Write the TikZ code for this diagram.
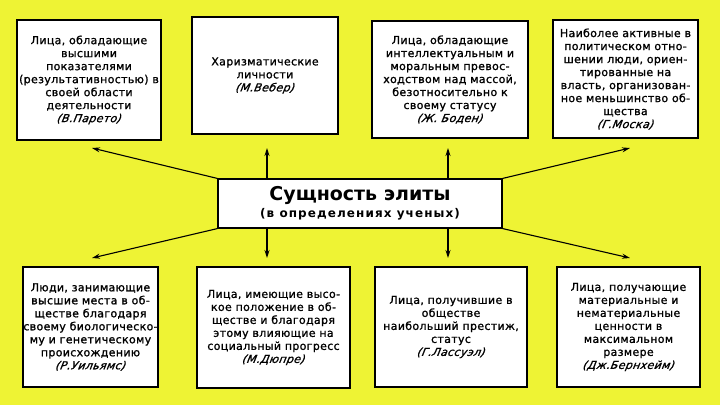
\documentclass[tikz,border=0pt]{standalone}
\usepackage{fontspec}
\setmainfont{DejaVu Sans}[RawFeature={embolden=1.2}, LetterSpace=3, ItalicFeatures={FakeSlant=0.2}]
\newfontfamily\titlefont{DejaVu Sans Bold}
\newfontfamily\subfont{DejaVu Sans Bold}[LetterSpace=9]
\usetikzlibrary{arrows.meta}
\definecolor{bgyellow}{RGB}{238,243,52}
\tikzset{
  box/.style={draw=black, fill=white, line width=1.1pt, align=center, inner sep=0pt,
    font=\fontsize{11}{13}\selectfont},
  arr/.style={line width=1.1pt, -{Stealth[length=8pt,width=5pt]}}
}
\newcommand{\au}[1]{{\itshape #1}}
\begin{document}
\begin{tikzpicture}[x=1pt,y=-1pt]
\fill[bgyellow] (0,0) rectangle (720,405);
\useasboundingbox (0,0) rectangle (720,405);

\node[box, minimum width=144pt, minimum height=120pt] (b1) at (89,80)
  {Лица, обладающие\\высшими\\показателями\\(результативностью) в\\своей области\\деятельности\\\au{(В.Парето)}};
\node[box, minimum width=146pt, minimum height=117pt] (b2) at (265,75.5)
  {Харизматические\\личности\\\au{(М.Вебер)}};
\node[box, minimum width=156pt, minimum height=117pt] (b3) at (450,79.5)
  {Лица, обладающие\\интеллектуальным и\\моральным превос-\\ходством над массой,\\безотносительно к\\своему статусу\\\au{(Ж. Боден)}};
\node[box, minimum width=145pt, minimum height=118pt] (b4) at (625.5,79)
  {Наиболее активные в\\политическом отно-\\шении люди, ориен-\\тированные на\\власть, организован-\\ное меньшинство об-\\щества\\\au{(Г.Моска)}};

\node[box, minimum width=135pt, minimum height=120pt] (b5) at (90.5,327)
  {Люди, занимающие\\высшие места в об-\\ществе благодаря\\своему биологическо-\\му и генетическому\\происхождению\\\au{(Р.Уильямс)}};
\node[box, minimum width=153pt, minimum height=121pt] (b6) at (273.5,327.5)
  {Лица, имеющие высо-\\кое положение в об-\\ществе и благодаря\\этому влияющие на\\социальный прогресс\\\au{(М.Дюпре)}};
\node[box, minimum width=152pt, minimum height=120pt] (b7) at (451,327)
  {Лица, получившие в\\обществе\\наибольший престиж,\\статус\\\au{(Г.Лассуэл)}};
\node[box, minimum width=143pt, minimum height=120pt] (b8) at (628.5,327)
  {Лица, получающие\\материальные и\\нематериальные\\ценности в\\максимальном\\размере\\\au{(Дж.Бернхейм)}};

\node[box, minimum width=284pt, minimum height=49pt] (c) at (360,203.5)
  {{\titlefont\fontsize{19}{22}\selectfont Сущность элиты}\\[3pt]
   {\subfont\fontsize{12}{14}\selectfont (в определениях ученых)}};

\coordinate (tl) at (92,148);
\coordinate (tr) at (630,148);
\coordinate (bl) at (92,258);
\coordinate (br) at (630,258);
\coordinate (v1t) at (267,148);
\coordinate (v2t) at (448,148);
\coordinate (v1b) at (267,258);
\coordinate (v2b) at (448,258);

\draw[arr] (c.north west) -- (tl);
\draw[arr] (c.north east) -- (tr);
\draw[arr] (c.south west) -- (bl);
\draw[arr] (c.south east) -- (br);
\draw[arr] (v1t |- c.north) -- (v1t);
\draw[arr] (v2t |- c.north) -- (v2t);
\draw[arr] (v1b |- c.south) -- (v1b);
\draw[arr] (v2b |- c.south) -- (v2b);
\end{tikzpicture}
\end{document}
